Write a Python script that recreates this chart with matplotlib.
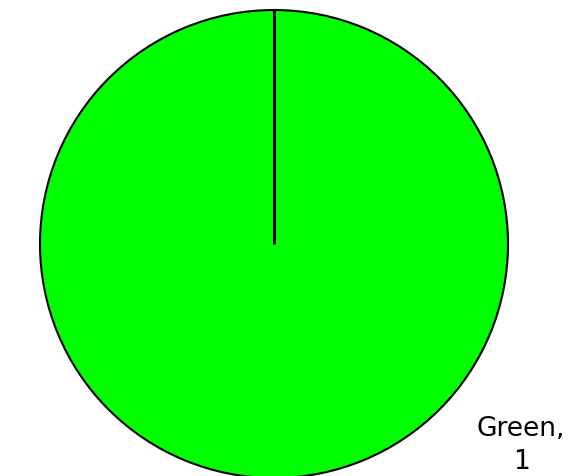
import numpy as np
import matplotlib
matplotlib.use("Agg")
import matplotlib.pyplot as plt

labels = ["Green"]
values = [1]
colors = ["#00ff00"]

fig = plt.figure(figsize=(5.88, 4.77), dpi=100)
ax = fig.add_axes([0, 0, 1, 1])

cx, cy, r = 274, 232, 234
start = 90
ax.pie(values, colors=colors, startangle=start, counterclock=False,
       center=(cx, cy), radius=r, frame=True,
       wedgeprops=dict(edgecolor="black", linewidth=1.5))
ax.set_xlim(0, 588)
ax.set_ylim(0, 477)
ax.set_aspect("equal")
ax.axis("off")

# boundary line at the slice start
ang = np.deg2rad(start)
ax.plot([cx, cx + r * np.cos(ang)], [cy, cy + r * np.sin(ang)],
        color="black", linewidth=2.2, solid_capstyle="butt")

ax.text(521, 31, f"{labels[0]},\n{values[0]}", ha="center", va="center",
        fontsize=19, family="DejaVu Sans", linespacing=1.35)

fig.savefig("out.png", dpi=100)
